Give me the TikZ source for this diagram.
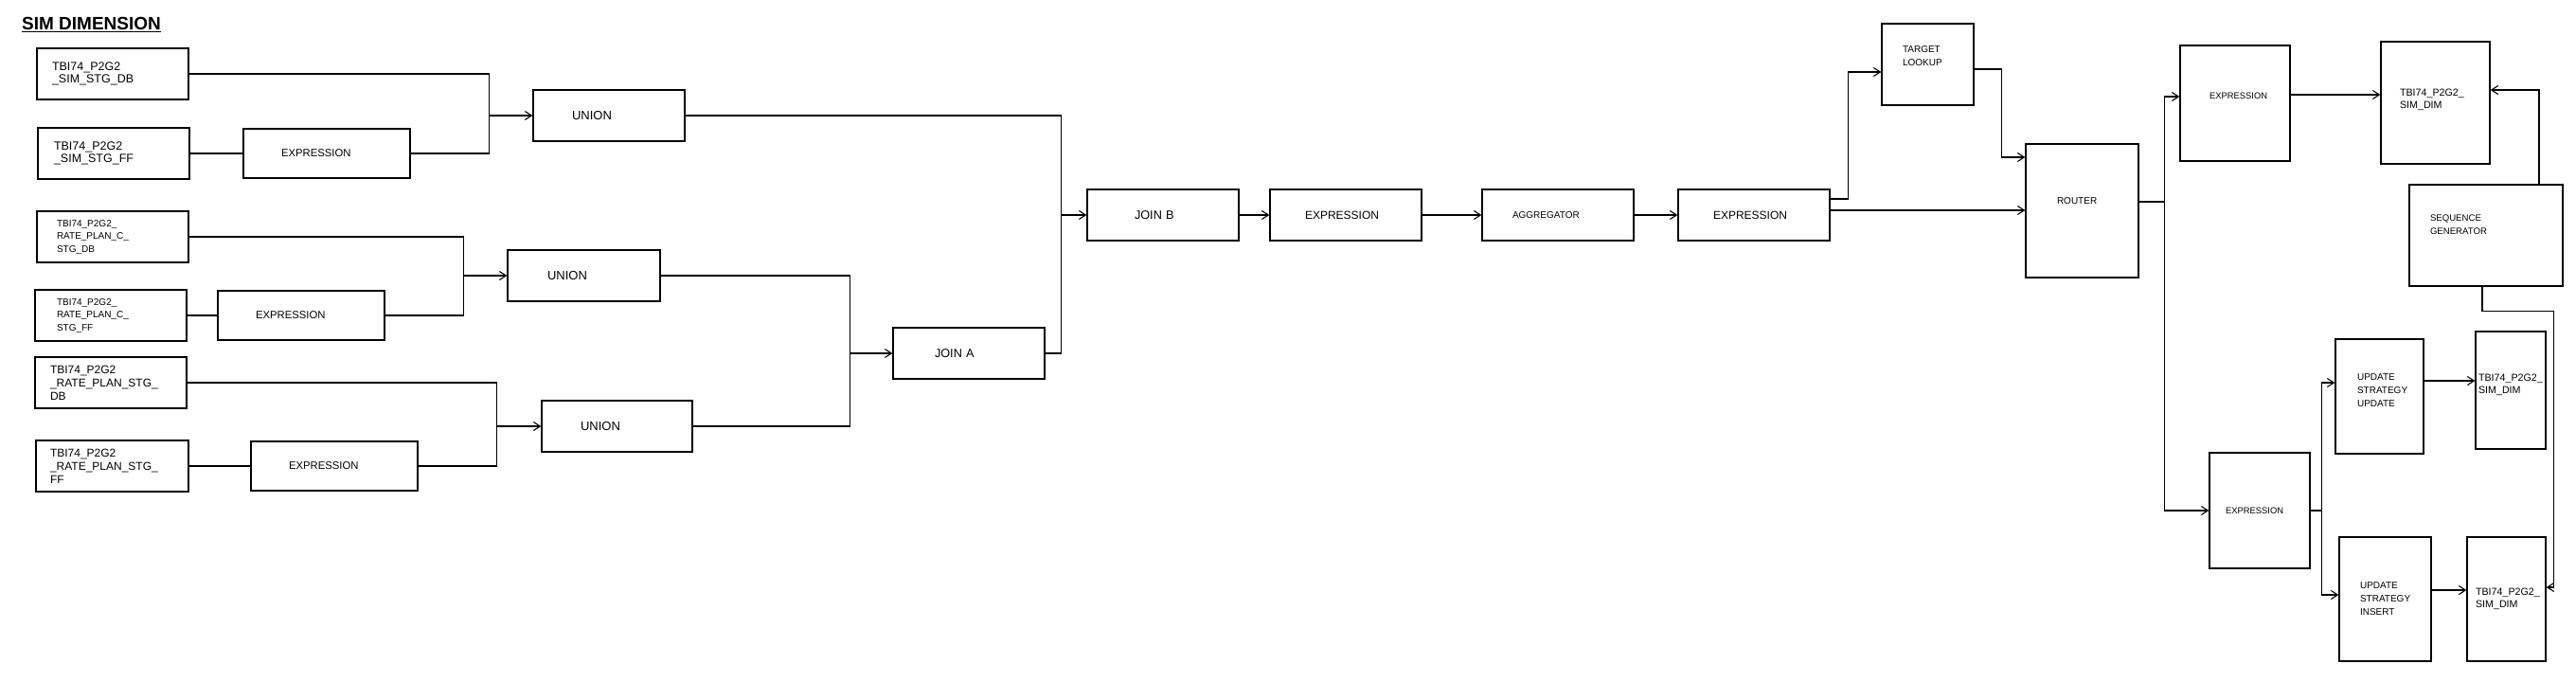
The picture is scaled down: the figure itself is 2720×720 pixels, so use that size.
\documentclass[tikz,border=0pt]{standalone}
\usepackage{fontspec}
\setmainfont{Liberation Sans}
\usetikzlibrary{arrows.meta, positioning, calc}
\tikzset{
  box/.style={draw, line width=1.3pt, align=left, inner ysep=2pt},
  blk/.style n args={3}{minimum width=#1pt, minimum height=#2pt,
    inner xsep=#3pt, text width=#1pt-2*#3pt},
  fsz/.style 2 args={font=\fontsize{#1}{#2}\selectfont},
  lift/.style={execute at end node={\par\kern#1pt}},
  wire/.style={line width=1.1pt},
  arr/.style={wire, -{Straight Barb[length=7pt,width=9pt]}},
  head/.style={font=\bfseries\fontsize{19}{21}\selectfont, anchor=base west, inner sep=0pt}
}
\begin{document}
\begin{tikzpicture}[x=1pt, y=-1pt]
  \path[use as bounding box, fill=white] (0,0) rectangle (2720,720);
  \node[head] (title) at (23,31) {SIM DIMENSION};
  \draw[line width=1.6pt] ([yshift=-2.5pt]title.base west) -- ([yshift=-2.5pt]title.base east);

  % first branch
  \node[box, blk={160}{54}{16}, fsz={12.5}{13.5}] (simdb) at (119,78) {TBI74\_P2G2\\\_SIM\_STG\_DB};
  \node[box, blk={160}{54}{17}, fsz={12.5}{13.5}] (simff) at (120,162) {TBI74\_P2G2\\\_SIM\_STG\_FF};
  \node[box, blk={176}{52}{40}, fsz={11.3}{13}] (exp1) at (345,162) {EXPRESSION};
  \node[box, blk={160}{54}{41}, fsz={13}{14}] (union1) at (643,122) {UNION};

  % second branch
  \node[box, blk={160}{54}{21}, fsz={10}{13.5}] (rcdb) at (119,250) {TBI74\_P2G2\_\\RATE\_PLAN\_C\_\\STG\_DB};
  \node[box, blk={160}{54}{23}, fsz={10}{13.5}] (rcff) at (117,333) {TBI74\_P2G2\_\\RATE\_PLAN\_C\_\\STG\_FF};
  \node[box, blk={176}{52}{40}, fsz={11.3}{13}] (exp2) at (318,333) {EXPRESSION};
  \node[box, blk={161}{54}{42}, fsz={13}{14}] (union2) at (616.5,291) {UNION};

  % third branch
  \node[box, blk={160}{54}{16}, fsz={12}{14}] (rpdb) at (117,404) {TBI74\_P2G2\\\_RATE\_PLAN\_STG\_\\DB};
  \node[box, blk={161}{54}{15}, fsz={12}{14}] (rpff) at (118.5,492) {TBI74\_P2G2\\\_RATE\_PLAN\_STG\_\\FF};
  \node[box, blk={176}{52}{40}, fsz={11.3}{13}] (exp3) at (353,492) {EXPRESSION};
  \node[box, blk={159}{54}{41}, fsz={13}{14}] (union3) at (651.5,450) {UNION};

  % main line
  \node[box, blk={160}{54}{44}, fsz={12.7}{14}] (joina) at (1023,373) {JOIN A};
  \node[box, blk={160}{54}{50}, fsz={12.7}{14}] (joinb) at (1228,227) {JOIN B};
  \node[box, blk={160}{54}{37}, fsz={12}{14}] (exp4) at (1421,227) {EXPRESSION};
  \node[box, blk={160}{54}{32}, fsz={10}{14}] (agg) at (1645,227) {AGGREGATOR};
  \node[box, blk={160}{54}{37}, fsz={12}{14}] (exp5) at (1852,227) {EXPRESSION};
  \node[box, blk={97}{86}{22}, fsz={10}{14}, lift=18] (lookup) at (2035.5,68) {TARGET\\LOOKUP};
  \node[box, blk={119}{141}{33}, fsz={10}{14}, lift=21] (router) at (2198.5,222.5) {ROUTER};

  % targets
  \node[box, blk={116}{122}{31}, fsz={9.4}{13}, lift=16] (exp6) at (2360,109) {EXPRESSION};
  \node[box, blk={115}{129}{20}, fsz={10.7}{13.5}, lift=6] (simdim1) at (2571.5,108.5) {TBI74\_P2G2\_\\SIM\_DIM};
  \node[box, blk={162}{107}{22}, fsz={9.6}{14}, lift=23] (seqgen) at (2625,248.5) {SEQUENCE\\GENERATOR};
  \node[box, blk={106}{122}{17}, fsz={9.4}{13}] (exp7) at (2386,539) {EXPRESSION};
  \node[box, blk={93}{121}{23}, fsz={10}{14}, lift=13] (upd) at (2512.5,418.5) {UPDATE\\STRATEGY\\UPDATE};
  \node[box, blk={74}{124}{3}, fsz={10.7}{13.5}, lift=11] (simdim2) at (2651,412) {TBI74\_P2G2\_\\SIM\_DIM};
  \node[box, blk={97}{131}{22}, fsz={10}{14}] (ins) at (2518.5,632.5) {UPDATE\\STRATEGY\\INSERT};
  \node[box, blk={83}{131}{9}, fsz={10.7}{13.5}] (simdim3) at (2646.5,632.5) {TBI74\_P2G2\_\\SIM\_DIM};

  % merge points
  \coordinate (m1) at ([xshift=-46pt]union1.west);
  \coordinate (m2) at ([xshift=-46pt]union2.west);
  \coordinate (m3) at ([xshift=-47pt]union3.west);
  \coordinate (m4) at ([xshift=-45pt]joina.west);
  \coordinate (m5) at ([xshift=-27pt]joinb.west);

  \draw[wire] (simdb.east) -| (m1) |- (exp1.east);
  \draw[wire] (simff) -- (exp1);
  \draw[arr] (m1) -- (union1.west);
  \draw[wire] (rcdb.east) -| (m2) |- (exp2.east);
  \draw[wire] (rcff) -- (exp2);
  \draw[arr] (m2) -- (union2.west);
  \draw[wire] (rpdb.east) -| (m3) |- (exp3.east);
  \draw[wire] (rpff) -- (exp3);
  \draw[arr] (m3) -- (union3.west);
  \draw[wire] (union2.east) -| (m4) |- (union3.east);
  \draw[arr] (m4) -- (joina.west);
  \draw[wire] (union1.east) -| (m5) |- (joina.east);
  \draw[arr] (m5) -- (joinb.west);
  \draw[arr] (joinb) -- (exp4);
  \draw[arr] (exp4) -- (agg);
  \draw[arr] (agg) -- (exp5);

  % lookup and router
  \coordinate (t0) at ([shift={(-35,8)}]lookup.west);
  \coordinate (t1) at ([shift={(-25,-56.5)}]router.west);
  \draw[arr] ([yshift=17pt]exp5.east) -| (t0) -- (t0 -| lookup.west);
  \draw[arr] ([yshift=-5pt]lookup.east) -| (t1) -- (t1 -| router.west);
  \draw[arr] ([yshift=5pt]exp5.east) coordinate (e5o) -- (e5o -| router.west);

  \coordinate (r1) at ([shift={(-16,-7)}]exp6.west);
  \coordinate (r2) at ([xshift=-47pt]exp7.west);
  \draw[arr] ([yshift=9.5pt]router.east) -| (r1) -- (r1 -| exp6.west);
  \draw[arr] (r1) -- (r2) -- (exp7.west);

  \draw[arr] ([yshift=9pt]exp6.east) coordinate (e6o) -- (e6o -| simdim1.west);
  \draw[arr] ([xshift=56pt]seqgen.north) |- ([yshift=13.5pt]simdim1.east);

  \coordinate (s1) at ([shift={(-14,-14.5)}]upd.west);
  \coordinate (s2) at ([shift={(-18,-4.5)}]ins.west);
  \draw[arr] (exp7.east) -| (s1) -- (upd.west |- s1);
  \draw[arr] (exp7.east) -| (s2) -- (ins.west |- s2);
  \draw[arr] ([yshift=16.5pt]upd.east) coordinate (uo) -- (uo -| simdim2.west);
  \draw[arr] ([yshift=9.5pt]ins.east) coordinate (io) -- (io -| simdim3.west);

  \coordinate (q1) at ([shift={(-10,26)}]seqgen.south east);
  \draw[arr] ([xshift=-4pt]seqgen.south) |- (q1) |- ([yshift=12.5pt]simdim3.east);
\end{tikzpicture}
\end{document}
